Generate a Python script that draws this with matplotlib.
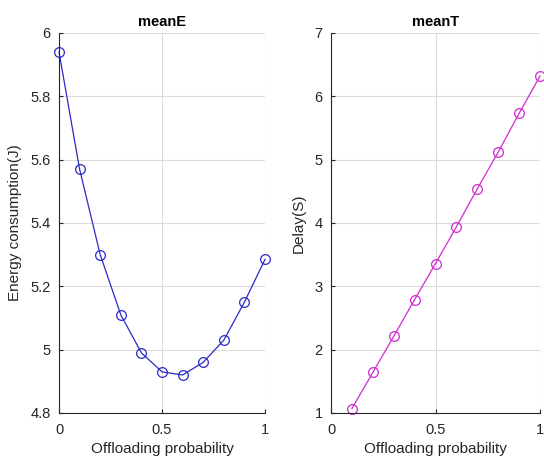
import matplotlib
matplotlib.use("Agg")
import matplotlib.pyplot as plt

x_e = [0, 0.1, 0.2, 0.3, 0.4, 0.5, 0.6, 0.7, 0.8, 0.9, 1.0]
mean_e = [5.94, 5.57, 5.30, 5.11, 4.99, 4.93, 4.92, 4.96, 5.03, 5.15, 5.285]
x_t = [0.1, 0.2, 0.3, 0.4, 0.5, 0.6, 0.7, 0.8, 0.9, 1.0]
mean_t = [1.07, 1.64, 2.21, 2.79, 3.36, 3.94, 4.54, 5.12, 5.73, 6.32]

plt.rcParams['font.family'] = ['Liberation Sans', 'DejaVu Sans']

fig = plt.figure(figsize=(5.44, 4.59), dpi=100)
W, H = 544, 459
ax1 = fig.add_axes([59 / W, 1 - 413 / H, (265 - 59) / W, (413 - 33) / H])
ax2 = fig.add_axes([331 / W, 1 - 413 / H, (540 - 331) / W, (413 - 33) / H])

def style(ax):
    for s in ['top', 'right']:
        ax.spines[s].set_visible(False)
    for s in ['left', 'bottom']:
        ax.spines[s].set_color('#262626')
        ax.spines[s].set_linewidth(0.8)
    ax.grid(True, color='#dcdcdc', linewidth=0.8)
    ax.set_axisbelow(True)
    ax.tick_params(direction='in', length=3, labelsize=10.5, colors='#262626', width=0.8)
    ax.tick_params(axis='x', pad=7)
    ax.tick_params(axis='y', pad=6)
    ax.set_xlim(0, 1)
    ax.set_xticks([0, 0.5, 1])
    ax.set_xticklabels(['0', '0.5', '1'])
    ax.set_xlabel('Offloading probability', fontsize=11, color='#262626', labelpad=4)

ax1.plot(x_e, mean_e, '-o', color='#2a2ac8', linewidth=0.9, markersize=7,
         markerfacecolor='none', markeredgewidth=0.9, clip_on=False)
style(ax1)
ax1.set_ylim(4.8, 6)
ax1.set_yticks([4.8, 5, 5.2, 5.4, 5.6, 5.8, 6])
ax1.set_yticklabels(['4.8', '5', '5.2', '5.4', '5.6', '5.8', '6'])
ax1.set_ylabel('Energy consumption(J)', fontsize=11, color='#262626', labelpad=6)
ax1.set_title('meanE', fontsize=10.5, fontweight='bold', pad=5)

ax2.plot(x_t, mean_t, '-o', color='#d02ad0', linewidth=0.9, markersize=7,
         markerfacecolor='none', markeredgewidth=0.9, clip_on=False)
style(ax2)
ax2.set_ylim(1, 7)
ax2.set_yticks([1, 2, 3, 4, 5, 6, 7])
ax2.set_ylabel('Delay(S)', fontsize=11, color='#262626', labelpad=6)
ax2.set_title('meanT', fontsize=10.5, fontweight='bold', pad=5)

fig.savefig('out.png', dpi=100)
